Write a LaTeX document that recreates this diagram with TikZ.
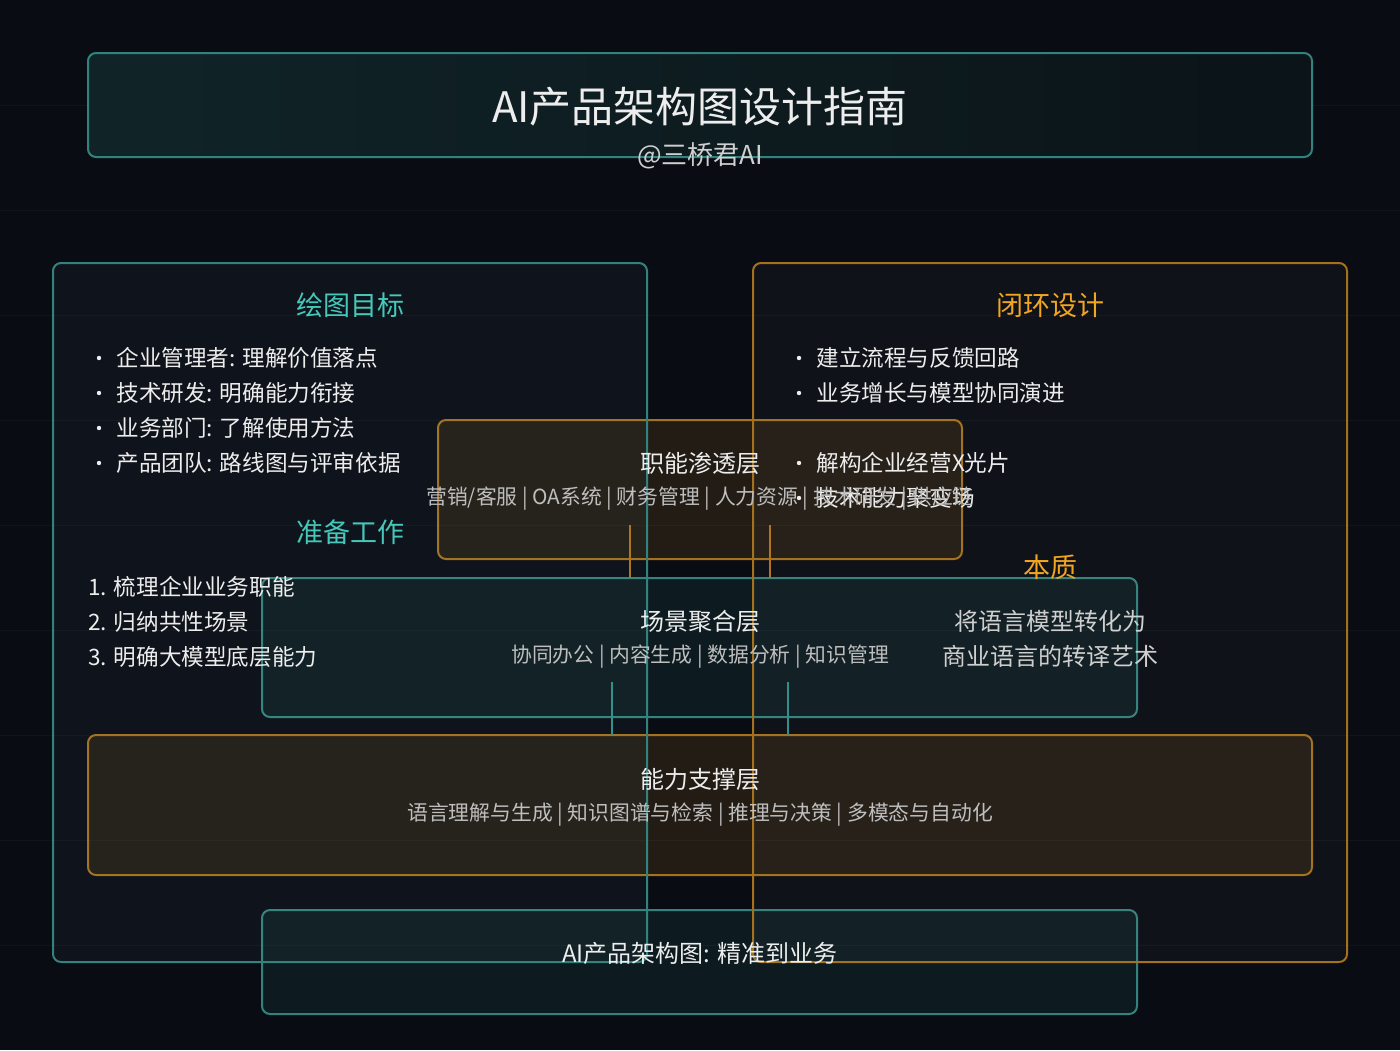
\documentclass[tikz,border=0pt]{standalone}
\usepackage{fontspec}
\setmainfont{Noto Sans CJK SC}
\usetikzlibrary{calc}
\definecolor{bg}{HTML}{0A0C14}
\definecolor{tealline}{HTML}{32837E}
\definecolor{tealtxt}{HTML}{45C8BA}
\definecolor{orngline}{HTML}{A4711C}
\definecolor{orngtxt}{HTML}{F2A51F}
\definecolor{subgray}{HTML}{BEBEBE}
\definecolor{lightgray}{HTML}{CFCFCF}
\definecolor{txtwhite}{HTML}{EDEDED}
\definecolor{tealfill}{HTML}{2E9C92}
\definecolor{orngfill}{HTML}{C8891E}
\definecolor{tboxl}{RGB}{16,36,40}
\definecolor{tboxr}{RGB}{11,20,24}
\definecolor{lfill}{HTML}{8FD0CA}
\definecolor{rfill}{HTML}{B8B0A6}
\begin{document}
\begin{tikzpicture}[x=0.5pt,y=-0.5pt,
  box/.style={rounded corners=4pt, line width=1pt, inner sep=0pt, outer sep=0pt},
  orlayer/.style={box, draw=orngline, fill=orngfill, fill opacity=0.13},
  tllayer/.style={box, draw=tealline, fill=tealfill, fill opacity=0.11},
  bigteal/.style={box, draw=tealline, fill=lfill, fill opacity=0.04},
  bigorng/.style={box, draw=orngline, fill=rfill, fill opacity=0.04},
  conn/.style={line width=1pt},
  title/.style={font=\fontsize{21}{25}\selectfont, text=txtwhite},
  subtitle/.style={font=\fontsize{13}{16}\selectfont, text=lightgray},
  head/.style={font=\fontsize{13.5}{16}\selectfont},
  item/.style={font=\fontsize{11.3}{14}\selectfont, text=txtwhite, anchor=west, inner sep=0pt},
  layertitle/.style={font=\fontsize{12}{14}\selectfont, text=txtwhite},
  layersub/.style={font=\fontsize{10.4}{12}\selectfont, text=subgray},
  essence/.style={font=\fontsize{12}{14}\selectfont, text=lightgray},
  dot/.style={circle, fill=txtwhite, inner sep=0pt, minimum size=2.2pt}
]
\fill[bg] (0,0) rectangle (1400,1050);
\useasboundingbox (0,0) rectangle (1400,1050);
\foreach \yy in {105,210,315,420,525,630,735,840,945}
  \draw[white, opacity=0.035, line width=0.5pt] (0,\yy) -- (1400,\yy);

% title box
\node[box, draw=tealline, minimum width=612pt, minimum height=52pt,
  left color=tboxl, right color=tboxr] (tbox) at (700,105) {};

% layer boxes
\node[orlayer, minimum width=262pt, minimum height=69.5pt] (zn) at (700,489.5) {};
\node[tllayer, minimum width=437.5pt, minimum height=69.5pt] (cj) at (699.5,647.5) {};
\node[orlayer, minimum width=612pt, minimum height=70pt] (nl) at (700,805) {};
\node[tllayer, minimum width=437.5pt, minimum height=52pt] (bt) at (699.5,962) {};

% connectors
\coordinate (o1) at (630,525);
\coordinate (o2) at (770,525);
\coordinate (t1) at (612,682);
\coordinate (t2) at (788,682);
\draw[conn, draw=orngline!85!orange] (o1) -- (o1 |- cj.north);
\draw[conn, draw=orngline!85!orange] (o2) -- (o2 |- cj.north);
\draw[conn, draw=tealline!90!cyan] (t1) -- (t1 |- nl.north);
\draw[conn, draw=tealline!90!cyan] (t2) -- (t2 |- nl.north);

% big boxes
\node[bigteal, minimum width=297pt, minimum height=349.5pt] (lbox) at (350,612.5) {};
\node[bigorng, minimum width=297pt, minimum height=349.5pt] (rbox) at (1050,612.5) {};

% title texts
\node[title] (ttl) at (700,107) {AI产品架构图设计指南};
\node[subtitle] (sub) at (700,156) {@三桥君AI};

% left box
\node[head, text=tealtxt] (h1) at (350,305) {绘图目标};
\foreach \yy/\tx [count=\i] in {358/{企业管理者: 理解价值落点},393/{技术研发: 明确能力衔接},428/{业务部门: 了解使用方法},463/{产品团队: 路线图与评审依据}}{
  \node[dot] (ld\i) at (99,\yy) {};
  \node[item] (li\i) at (116,\yy) {\tx};
}
\node[head, text=tealtxt] (h2) at (350,532) {准备工作};
\node[item] (n1) at (88,587) {1. 梳理企业业务职能};
\node[item] (n2) at (88,622) {2. 归纳共性场景};
\node[item] (n3) at (88,657) {3. 明确大模型底层能力};

% right box
\node[head, text=orngtxt] (h3) at (1050,305) {闭环设计};
\foreach \yy/\tx [count=\i] in {358/{建立流程与反馈回路},393/{业务增长与模型协同演进},463/{解构企业经营X光片},498/{技术能力聚变场}}{
  \node[dot] (rd\i) at (799,\yy) {};
  \node[item] (ri\i) at (816,\yy) {\tx};
}
\node[head, text=orngtxt] (h4) at (1050,567) {本质};
\node[essence] (e1) at (1050,621) {将语言模型转化为};
\node[essence] (e2) at (1050,656) {商业语言的转译艺术};

% layer texts
\node[layertitle] (znt) at (700,463) {职能渗透层};
\node[layersub] (zns) at (700,499) {营销/客服 | OA系统 | 财务管理 | 人力资源 | 技术研发 | 供应链};
\node[layertitle] (cjt) at (700,621) {场景聚合层};
\node[layersub] (cjs) at (700,657) {协同办公 | 内容生成 | 数据分析 | 知识管理};
\node[layertitle] (nlt) at (700,779) {能力支撑层};
\node[layersub] (nls) at (700,815) {语言理解与生成 | 知识图谱与检索 | 推理与决策 | 多模态与自动化};
\node[layertitle] (btt) at (700,953) {AI产品架构图: 精准到业务};
\end{tikzpicture}
\end{document}
